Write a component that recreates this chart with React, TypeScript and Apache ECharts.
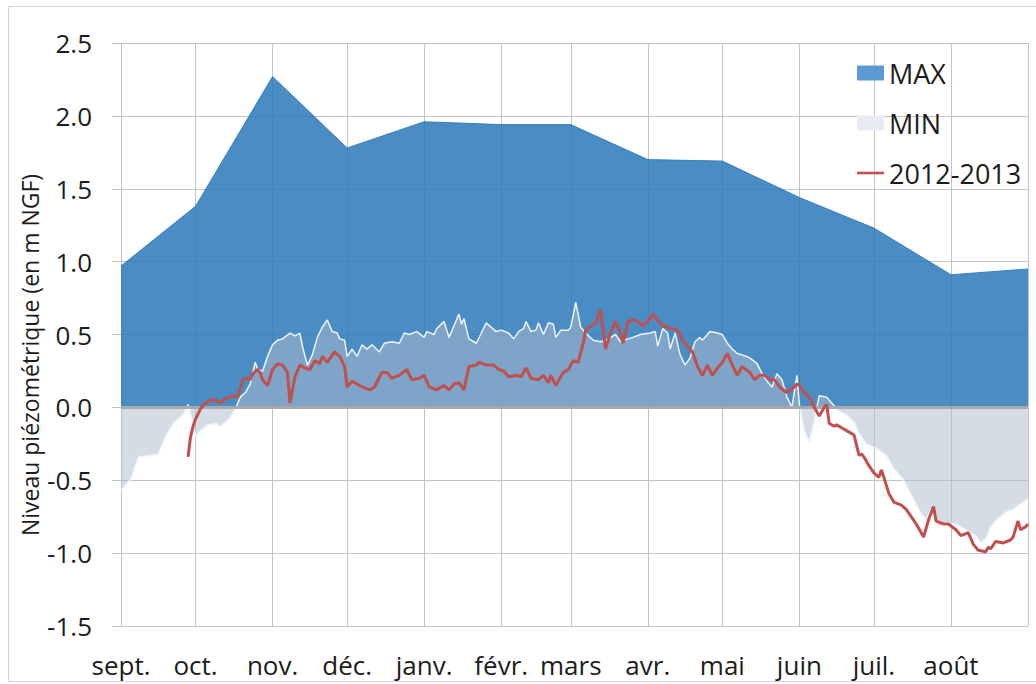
import React, { useEffect, useRef } from "react";
import * as echarts from "echarts";

const monthNames = ["sept.", "oct.", "nov.", "déc.", "janv.", "févr.", "mars", "avr.", "mai", "juin", "juil.", "août"];
const monthLengths = [30, 31, 30, 31, 31, 28, 31, 30, 31, 30, 31, 31];

// MAX envelope: [day index from 1 Sept 2012, level m NGF]
const maxSeries: [number, number][] = [
  [0, 0.97], [30, 1.38], [61, 2.27], [91, 1.78], [122, 1.96], [153, 1.94], [181, 1.94],
  [212, 1.70], [242, 1.69], [273, 1.44], [303, 1.23], [334, 0.91], [365, 0.95],
];

// MIN envelope
const minSeries: [number, number][] = [
  [0, -0.57], [4, -0.49], [7, -0.34], [12, -0.33], [15, -0.32], [18, -0.2], [21, -0.11], [23, -0.08],
  [25, -0.05], [27, 0.02], [29, -0.11], [30, -0.2], [32, -0.16], [35, -0.12], [38, -0.11], [40, -0.13],
  [42, -0.1], [44, -0.07], [46, -0.01], [48, 0.07], [50, 0.1], [52, 0.16], [54, 0.31], [55, 0.26],
  [57, 0.25], [59, 0.35], [61, 0.43], [63, 0.46], [65, 0.47], [68, 0.51], [70, 0.49], [72, 0.51],
  [73, 0.42], [75, 0.29], [77, 0.36], [79, 0.48], [81, 0.55], [83, 0.6], [85, 0.52], [87, 0.51],
  [88, 0.47], [90, 0.46], [91, 0.35], [93, 0.4], [95, 0.35], [97, 0.43], [99, 0.4], [101, 0.43],
  [104, 0.38], [106, 0.44], [109, 0.45], [112, 0.44], [114, 0.51], [116, 0.5], [119, 0.52], [122, 0.48],
  [123, 0.52], [126, 0.5], [127, 0.54], [130, 0.59], [132, 0.48], [134, 0.56], [136, 0.64], [137, 0.57],
  [138, 0.61], [140, 0.47], [143, 0.44], [145, 0.51], [147, 0.58], [149, 0.55], [151, 0.52], [153, 0.53],
  [156, 0.51], [158, 0.47], [160, 0.52], [162, 0.54], [163, 0.59], [165, 0.52], [167, 0.53], [168, 0.58],
  [170, 0.5], [172, 0.58], [174, 0.57], [175, 0.48], [177, 0.53], [180, 0.53], [181, 0.55], [183, 0.72],
  [185, 0.55], [187, 0.51], [190, 0.46], [193, 0.45], [195, 0.46], [199, 0.5], [201, 0.45], [204, 0.47],
  [206, 0.48], [209, 0.5], [213, 0.51], [215, 0.52], [216, 0.42], [218, 0.54], [220, 0.51], [221, 0.4],
  [223, 0.51], [225, 0.36], [227, 0.29], [229, 0.34], [231, 0.45], [233, 0.48], [234, 0.46], [237, 0.52],
  [240, 0.51], [242, 0.5], [244, 0.44], [246, 0.4], [248, 0.37], [250, 0.36], [253, 0.34], [256, 0.3],
  [258, 0.23], [260, 0.18], [262, 0.14], [264, 0.23], [266, 0.19], [268, 0.07], [270, 0.0], [272, 0.22],
  [273, 0.02], [275, -0.16], [277, -0.24], [279, -0.09], [281, 0.08], [284, 0.07], [286, 0.03], [289, -0.03],
  [292, -0.05], [295, -0.1], [297, -0.18], [300, -0.25], [304, -0.28], [308, -0.33], [311, -0.42], [315, -0.5],
  [318, -0.6], [322, -0.73], [324, -0.77], [326, -0.7], [329, -0.82], [332, -0.79], [336, -0.8], [340, -0.84],
  [344, -0.88], [346, -0.93], [348, -0.9], [350, -0.82], [353, -0.76], [356, -0.72], [359, -0.7], [362, -0.66],
  [365, -0.63],
];

// 2012-2013 observed level
const yearSeries: [number, number][] = [
  [27, -0.34], [28, -0.2], [29, -0.13], [30, -0.08], [32, -0.01], [34, 0.03], [36, 0.05], [38, 0.05],
  [40, 0.03], [42, 0.06], [44, 0.07], [46, 0.08], [47, 0.07], [49, 0.19], [50, 0.2], [52, 0.19],
  [53, 0.23], [55, 0.26], [56, 0.24], [57, 0.19], [59, 0.15], [61, 0.26], [63, 0.3], [65, 0.29],
  [67, 0.24], [68, 0.03], [70, 0.21], [72, 0.29], [74, 0.27], [76, 0.26], [78, 0.32], [80, 0.3],
  [81, 0.35], [83, 0.31], [86, 0.38], [88, 0.35], [90, 0.28], [91, 0.14], [93, 0.18], [95, 0.16],
  [97, 0.14], [100, 0.12], [102, 0.14], [105, 0.24], [107, 0.24], [109, 0.2], [112, 0.22], [115, 0.26],
  [117, 0.19], [120, 0.2], [122, 0.22], [124, 0.14], [127, 0.12], [130, 0.15], [132, 0.12], [134, 0.16],
  [136, 0.17], [138, 0.12], [140, 0.28], [143, 0.29], [144, 0.31], [147, 0.29], [150, 0.29], [152, 0.26],
  [154, 0.25], [156, 0.21], [159, 0.22], [161, 0.21], [163, 0.27], [165, 0.2], [168, 0.19], [170, 0.22],
  [172, 0.17], [173, 0.22], [175, 0.15], [178, 0.24], [180, 0.26], [182, 0.32], [184, 0.31], [186, 0.44],
  [187, 0.53], [191, 0.58], [193, 0.67], [195, 0.4], [197, 0.51], [199, 0.59], [201, 0.51], [202, 0.44],
  [204, 0.59], [206, 0.6], [208, 0.59], [210, 0.56], [212, 0.59], [214, 0.64], [216, 0.6], [218, 0.56],
  [220, 0.55], [222, 0.54], [224, 0.53], [226, 0.46], [228, 0.42], [230, 0.38], [232, 0.28], [234, 0.22],
  [236, 0.29], [238, 0.22], [240, 0.27], [242, 0.31], [244, 0.37], [246, 0.29], [248, 0.22], [250, 0.28],
  [253, 0.24], [255, 0.19], [257, 0.22], [259, 0.22], [261, 0.19], [263, 0.19], [265, 0.14], [268, 0.1],
  [271, 0.14], [272, 0.16], [273, 0.15], [275, 0.1], [277, 0.07], [279, 0.0], [281, -0.06], [283, 0.0],
  [284, 0.02], [285, -0.11], [287, -0.13], [288, -0.12], [290, -0.14], [293, -0.17], [295, -0.19], [297, -0.33],
  [298, -0.32], [299, -0.34], [301, -0.4], [303, -0.45], [305, -0.48], [306, -0.43], [307, -0.48], [309, -0.59],
  [311, -0.65], [314, -0.67], [316, -0.7], [318, -0.75], [320, -0.8], [323, -0.89], [325, -0.77], [327, -0.68],
  [328, -0.78], [331, -0.8], [333, -0.8], [336, -0.84], [338, -0.88], [341, -0.86], [343, -0.94], [345, -0.98],
  [348, -0.99], [349, -0.96], [350, -0.97], [352, -0.92], [355, -0.93], [358, -0.91], [359, -0.89], [361, -0.78],
  [362, -0.84], [364, -0.82], [365, -0.8],
];

const yTicks = { min: -1.5, max: 2.5, interval: 0.5 };

const FONT = "'Open Sans', 'Noto Sans', sans-serif";
const TEXT = "#1c1c1c";

export default function App() {
  const ref = useRef<HTMLDivElement>(null);

  useEffect(() => {
    if (!ref.current) return;
    // build the daily category axis (1 Sept 2012 .. 1 Sept 2013)
    const days: string[] = [];
    const labelOf: Record<string, string> = {};
    let year = 2012;
    let month = 9;
    monthLengths.forEach((len, mi) => {
      for (let d = 1; d <= len; d++) {
        const key = `${year}-${String(month).padStart(2, "0")}-${String(d).padStart(2, "0")}`;
        days.push(key);
        if (d === 1) labelOf[key] = monthNames[mi];
      }
      month += 1;
      if (month > 12) { month = 1; year += 1; }
    });
    days.push("2013-09-01");
    const lastIdx = days.length - 1;

    const chart = echarts.init(ref.current, undefined, { renderer: "svg" });
    chart.setOption({
      animation: false,
      backgroundColor: "#ffffff",
      textStyle: { fontFamily: FONT },
      grid: { left: 121, top: 43, width: 907, height: 583, containLabel: false },
      legend: {
        orient: "vertical",
        left: 852,
        top: 54,
        itemWidth: 27,
        itemHeight: 15,
        itemGap: 22,
        selectedMode: false,
        symbolKeepAspect: true,
        textStyle: { fontSize: 27, lineHeight: 28, color: TEXT, fontFamily: FONT },
        data: [
          { name: "MAX", icon: "rect", itemStyle: { color: "#5b9bd5", borderWidth: 0 } },
          { name: "MIN", icon: "rect", itemStyle: { color: "#e8ecf2", borderWidth: 0 } },
          {
            name: "2012-2013",
            icon: "path://M0,0H27V2.6H0Z",
            itemStyle: { color: "#c0504d", borderWidth: 0 },
          },
        ],
      },
      xAxis: {
        type: "category",
        data: days,
        boundaryGap: false,
        axisLine: { show: false },
        axisTick: { show: false },
        splitLine: {
          show: true,
          interval: (_i: number, v: string) => v.endsWith("-01"),
          lineStyle: { color: "#c4c4c4", width: 1 },
        },
        axisLabel: {
          interval: (i: number, v: string) => v.endsWith("-01") && i < lastIdx,
          formatter: (v: string) => labelOf[v] || "",
          fontSize: 26,
          lineHeight: 24,
          color: TEXT,
          fontFamily: FONT,
          margin: 27,
        },
      },
      yAxis: {
        type: "value",
        min: yTicks.min,
        max: yTicks.max,
        interval: yTicks.interval,
        axisLine: { show: false },
        axisTick: { show: true, length: 9, lineStyle: { color: "#c4c4c4" } },
        splitLine: { show: true, lineStyle: { color: "#c4c4c4", width: 1 } },
        axisLabel: {
          formatter: (v: number) => v.toFixed(1),
          fontSize: 26,
          color: TEXT,
          fontFamily: FONT,
          margin: 29,
        },
      },
      graphic: [
        {
          type: "polyline",
          silent: true,
          shape: { points: [[1036, 6.5], [8.5, 6.5], [8.5, 681.5], [1036, 681.5]] },
          style: { stroke: "#d4d4d4", lineWidth: 1, fill: null },
        },
        {
          type: "text",
          x: 30,
          y: 355,
          rotation: Math.PI / 2,
          style: {
            text: "Niveau piézométrique (en m NGF)",
            fontSize: 23,
            fontFamily: FONT,
            fill: TEXT,
            textAlign: "center",
            textVerticalAlign: "middle",
          },
        },
      ],
      series: [
        {
          name: "MAX",
          type: "line",
          data: maxSeries,
          symbol: "none",
          z: 1,
          lineStyle: { width: 1, color: "rgba(42,120,186,0.85)" },
          itemStyle: { color: "#5b9bd5" },
          areaStyle: { color: "rgba(42,120,186,0.85)", opacity: 1 },
        },
        {
          name: "MIN",
          type: "line",
          data: minSeries,
          symbol: "none",
          z: 2,
          lineStyle: { width: 1.5, color: "#eef4fb" },
          itemStyle: { color: "#e8ecf2" },
          areaStyle: { color: "rgba(175,188,206,0.52)", opacity: 1 },
          markLine: {
            silent: true,
            symbol: ["none", "none"],
            z: 3,
            label: { show: false },
            lineStyle: { color: "#a9a9ad", width: 3, type: "solid" },
            data: [{ yAxis: 0 }],
          },
        },
        {
          name: "2012-2013",
          type: "line",
          data: yearSeries,
          symbol: "none",
          z: 4,
          lineStyle: { width: 3, color: "#c0504d" },
          itemStyle: { color: "#c0504d" },
        },
      ],
    });
    return () => chart.dispose();
  }, []);

  return (
    <div
      ref={ref}
      style={{ position: "fixed", left: 0, top: 0, width: 1036, height: 684, background: "#fff" }}
    />
  );
}
